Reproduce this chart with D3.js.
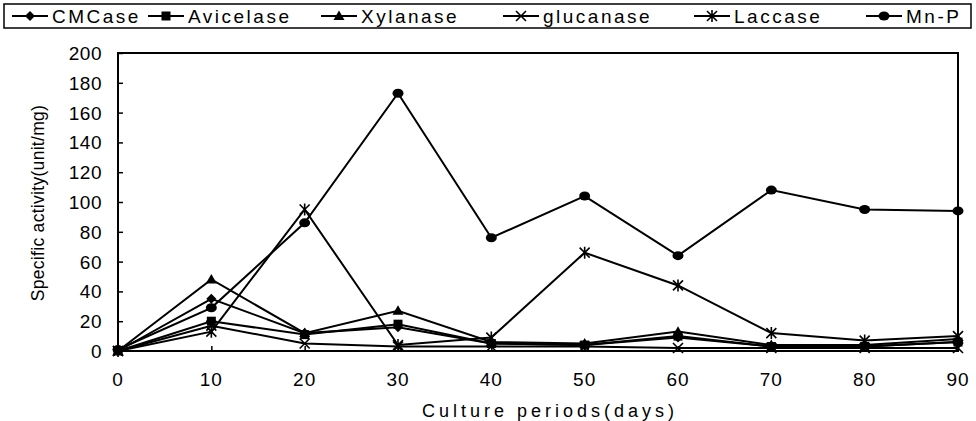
<!DOCTYPE html>
<html lang="en">
<head>
<meta charset="utf-8">
<title>Specific activity</title>
<style>
  body { margin: 0; background: #fff; }
  text { font-family: "Liberation Sans", Arial, sans-serif; fill: #000; }
</style>
</head>
<body>
<script src="https://cdn.jsdelivr.net/npm/d3@7"></script>
<script>
var days = [0, 10, 20, 30, 40, 50, 60, 70, 80, 90];
var cmcase    = [0, 35, 12, 16, 5, 4, 9, 3, 3, 6];
var avicelase = [0, 20, 11, 18, 5, 4, 10, 3, 3, 6];
var xylanase  = [0, 48, 12, 27, 6, 5, 13, 4, 4, 8];
var glucanase = [0, 17, 5, 3, 3, 3, 2, 2, 2, 2];
var laccase   = [0, 13, 95, 4, 9, 66, 44, 12, 7, 10];
var mnp       = [1, 29, 86, 173, 76, 104, 64, 108, 95, 94];
var names = ["CMCase", "Avicelase", "Xylanase", "glucanase", "Laccase", "Mn-P"];
var yTicks = [0, 20, 40, 60, 80, 100, 120, 140, 160, 180, 200];

var series = [
  {name: names[0], values: cmcase, shape: "diamond"},
  {name: names[1], values: avicelase, shape: "square"},
  {name: names[2], values: xylanase, shape: "triangle"},
  {name: names[3], values: glucanase, shape: "x"},
  {name: names[4], values: laccase, shape: "asterisk"},
  {name: names[5], values: mnp, shape: "circle"}
];

var width = 976, height = 421;
var x = d3.scaleLinear().domain([0, 90]).range([118, 958]);
var y = d3.scaleLinear().domain([0, 200]).range([351, 53]);

var svg = d3.select("body").append("svg")
    .attr("width", width)
    .attr("height", height);

// marker shapes
function marker(g, shape, cx, cy) {
  var s = 5;
  if (shape === "diamond") {
    g.append("path").attr("d", "M" + cx + "," + (cy - s) + "L" + (cx + s) + "," + cy +
      "L" + cx + "," + (cy + s) + "L" + (cx - s) + "," + cy + "Z");
  } else if (shape === "square") {
    g.append("rect").attr("x", cx - 4.5).attr("y", cy - 4.5).attr("width", 9).attr("height", 9);
  } else if (shape === "triangle") {
    g.append("path").attr("d", "M" + cx + "," + (cy - 5.5) + "L" + (cx + 5.5) + "," + (cy + 4) +
      "L" + (cx - 5.5) + "," + (cy + 4) + "Z");
  } else if (shape === "x") {
    g.append("path").attr("stroke", "#000").attr("stroke-width", 1.6)
      .attr("d", "M" + (cx - 5) + "," + (cy - 5) + "L" + (cx + 5) + "," + (cy + 5) +
        "M" + (cx - 5) + "," + (cy + 5) + "L" + (cx + 5) + "," + (cy - 5));
  } else if (shape === "asterisk") {
    g.append("path").attr("stroke", "#000").attr("stroke-width", 1.6)
      .attr("d", "M" + (cx - 5) + "," + (cy - 5) + "L" + (cx + 5) + "," + (cy + 5) +
        "M" + (cx - 5) + "," + (cy + 5) + "L" + (cx + 5) + "," + (cy - 5) +
        "M" + cx + "," + (cy - 6) + "L" + cx + "," + (cy + 6));
  } else {
    g.append("ellipse").attr("cx", cx).attr("cy", cy).attr("rx", 5.5).attr("ry", 4.5);
  }
}

// frame
svg.append("rect")
    .attr("x", x(0)).attr("y", y(200))
    .attr("width", x(90) - x(0)).attr("height", y(0) - y(200))
    .attr("fill", "none").attr("stroke", "#000").attr("stroke-width", 2);

// y axis ticks (inward)
svg.append("g")
    .attr("transform", "translate(" + x(0) + ",0)")
    .call(d3.axisRight(y).tickValues(yTicks).tickSize(5).tickFormat(""))
    .call(function(g) { g.select(".domain").remove(); })
    .selectAll("line").attr("stroke-width", 1.5);

svg.append("g").selectAll("text")
    .data(yTicks).enter().append("text")
    .attr("x", 102)
    .attr("y", function(d) { return y(d) + 7; })
    .attr("text-anchor", "end")
    .style("font-size", "19px")
    .style("letter-spacing", "0.5px")
    .text(function(d) { return d; });

// x axis ticks (inward)
svg.append("g")
    .attr("transform", "translate(0," + y(0) + ")")
    .call(d3.axisTop(x).tickValues(days).tickSize(5).tickFormat(""))
    .call(function(g) { g.select(".domain").remove(); })
    .selectAll("line").attr("stroke-width", 1.5);

svg.append("g").selectAll("text")
    .data(days).enter().append("text")
    .attr("x", function(d) { return x(d); })
    .attr("y", 386)
    .attr("text-anchor", "middle")
    .style("font-size", "19px")
    .style("letter-spacing", "1px")
    .text(function(d) { return d; });

// axis titles
svg.append("text")
    .attr("x", 550).attr("y", 417)
    .attr("text-anchor", "middle")
    .style("font-size", "18px")
    .style("letter-spacing", "4px")
    .text("Culture periods(days)");

svg.append("text")
    .attr("transform", "translate(44,203) rotate(-90)")
    .attr("text-anchor", "middle")
    .style("font-size", "17.5px")
    .style("letter-spacing", "0.3px")
    .text("Specific activity(unit/mg)");

// lines + markers
var line = d3.line()
    .x(function(d, i) { return x(days[i]); })
    .y(function(d) { return y(d); });

series.forEach(function(s) {
  svg.append("path")
      .datum(s.values)
      .attr("fill", "none")
      .attr("stroke", "#000")
      .attr("stroke-width", 2)
      .attr("d", line);
  var g = svg.append("g").attr("fill", "#000");
  s.values.forEach(function(v, i) { marker(g, s.shape, x(days[i]), y(v)); });
});

// legend
var leg = svg.append("g");
leg.append("rect")
    .attr("x", 4).attr("y", 4).attr("width", 967).attr("height", 24)
    .attr("fill", "none").attr("stroke", "#000").attr("stroke-width", 1.5);
var legX = [12, 148, 321, 503, 694, 866];
series.forEach(function(s, i) {
  var x0 = legX[i];
  leg.append("line")
      .attr("x1", x0).attr("x2", x0 + 36)
      .attr("y1", 16).attr("y2", 16)
      .attr("stroke", "#000").attr("stroke-width", 1.8);
  var g = leg.append("g").attr("fill", "#000");
  marker(g, s.shape, x0 + 18, 16);
  leg.append("text")
      .attr("x", x0 + 40).attr("y", 23)
      .style("font-size", "19px")
      .style("letter-spacing", "2.5px")
      .text(s.name);
});
</script>
</body>
</html>
